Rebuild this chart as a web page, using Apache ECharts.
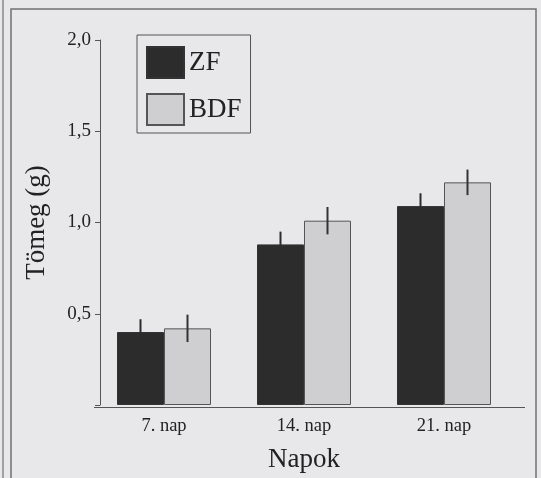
<!DOCTYPE html>
<html>
<head>
<meta charset="utf-8">
<script src="https://cdn.jsdelivr.net/npm/echarts@6/dist/echarts.min.js"></script>
<style>
html,body{margin:0;padding:0;background:#e8e8ea;}
#c{width:541px;height:478px;}
</style>
</head>
<body>
<div id="c"></div>
<script>
const categories = ['7. nap', '14. nap', '21. nap'];
const zfMean = [0.40, 0.88, 1.09];
const zfErr = [0.07, 0.07, 0.07];
const bdfMean = [0.42, 1.01, 1.22];
const bdfErr = [0.075, 0.075, 0.07];
const yTicks = [0, 0.5, 1.0, 1.5, 2.0];

const FONT = '"Liberation Serif", "DejaVu Serif", serif';
const BAR_W = 47;

function errSeries(name, means, errs, side, color) {
  return {
    type: 'custom',
    name: name,
    z: 5,
    data: means.map((m, i) => [i, m - errs[i], m + errs[i]]),
    renderItem: function (params, api) {
      const lo = api.coord([api.value(0), api.value(1)]);
      const hi = api.coord([api.value(0), api.value(2)]);
      const dx = side * BAR_W / 2;
      return {
        type: 'line',
        shape: { x1: lo[0] + dx, y1: lo[1], x2: hi[0] + dx, y2: hi[1] },
        style: { stroke: color, lineWidth: 2 }
      };
    },
    silent: true
  };
}

const chart = echarts.init(document.getElementById('c'));
chart.setOption({
  backgroundColor: '#e8e8ea',
  animation: false,
  textStyle: { fontFamily: FONT },
  graphic: [
    { type: 'rect', shape: { x: 11, y: 9, width: 525, height: 490 },
      style: { fill: 'none', stroke: '#707070', lineWidth: 1.5 }, z: -1 },
    { type: 'line', shape: { x1: 3, y1: 0, x2: 3, y2: 478 },
      style: { stroke: '#8a8a8a', lineWidth: 1.5 } },
    { type: 'line', shape: { x1: 94, y1: 407.5, x2: 525, y2: 407.5 },
      style: { stroke: '#555', lineWidth: 1 }, z: 10 }
  ],
  legend: {
    data: ['ZF', 'BDF'],
    orient: 'vertical',
    left: 137,
    top: 35,
    padding: [11, 9, 7, 9],
    itemWidth: 37,
    itemHeight: 31,
    itemGap: 14,
    icon: 'rect',
    borderColor: '#555',
    borderWidth: 1,
    selectedMode: false,
    textStyle: { fontFamily: FONT, fontSize: 27, color: '#222' }
  },
  grid: { left: 94, width: 420, top: 40, bottom: 71 },
  xAxis: {
    type: 'category',
    data: categories,
    axisLine: { show: false },
    axisTick: { show: false },
    axisLabel: { fontFamily: FONT, fontSize: 18.5, color: '#222', margin: 12 },
    name: 'Napok',
    nameLocation: 'middle',
    nameGap: 41,
    nameTextStyle: { fontFamily: FONT, fontSize: 27, color: '#222' }
  },
  yAxis: {
    type: 'value',
    min: 0,
    max: 2,
    interval: 0.5,
    offset: -6,
    splitLine: { show: false },
    axisLine: { show: true, lineStyle: { color: '#555', width: 1 } },
    axisTick: { show: true, length: 5, lineStyle: { color: '#555' } },
    axisLabel: {
      fontFamily: FONT, fontSize: 19, color: '#222', margin: 9,
      formatter: v => (v === 0 ? '' : v.toFixed(1).replace('.', ','))
    },
    name: 'Tömeg (g)',
    nameLocation: 'middle',
    nameGap: 50,
    nameTextStyle: { fontFamily: FONT, fontSize: 27, color: '#222' }
  },
  series: [
    { name: 'ZF', type: 'bar', data: zfMean, barWidth: BAR_W, barGap: '0%',
      itemStyle: { color: '#2c2c2c', borderColor: '#333', borderWidth: 1 } },
    { name: 'BDF', type: 'bar', data: bdfMean, barWidth: BAR_W, barGap: '0%',
      itemStyle: { color: '#cfcfd1', borderColor: '#555', borderWidth: 1 } },
    errSeries('zfErr', zfMean, zfErr, -1, '#2c2c2c'),
    errSeries('bdfErr', bdfMean, bdfErr, 1, '#333')
  ]
});
</script>
</body>
</html>
